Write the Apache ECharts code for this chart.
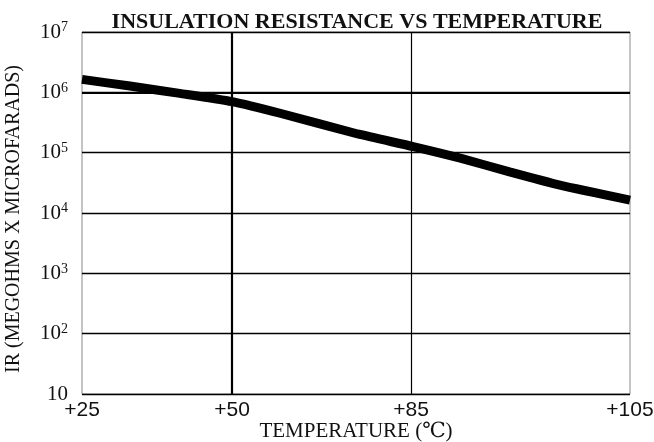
<!DOCTYPE html>
<html lang="en">
<head>
    <meta charset="UTF-8">
    <title>Insulation resistance vs temperature</title>
    <style>
        html, body { margin: 0; padding: 0; background: #fff; }
        #main { width: 654px; height: 442px; }
    </style>
</head>
<body>
    <div id="main"></div>
    <script src="https://cdn.jsdelivr.net/npm/echarts@6/dist/echarts.min.js"></script>
    <script>
        // x axis is not linear in temperature: each tick sits at its own position
        var tempTicks = [25, 50, 85, 105];
        var tickLabels = ["+25", "+50", "+85", "+105"];
        var tickPos = [0, 150, 329, 548];

        // curve (temperature in °C, IR in MΩ·µF)
        var curveTemp = [25, 33, 41.3, 50, 59.4, 74.6, 85.2, 89.5, 94, 98.6, 105];
        var curveIR = [1.64e6, 1.27e6, 9.6e5, 7.0e5, 4.5e5, 2.04e5, 1.26e5, 8.1e4, 4.8e4, 2.9e4, 1.64e4];

        var yTicks = [10, 1e2, 1e3, 1e4, 1e5, 1e6, 1e7];

        // piecewise map temperature -> axis position
        function toAxis(t) {
            for (var i = 0; i < tempTicks.length - 1; i++) {
                if (t <= tempTicks[i + 1]) {
                    var f = (t - tempTicks[i]) / (tempTicks[i + 1] - tempTicks[i]);
                    return tickPos[i] + f * (tickPos[i + 1] - tickPos[i]);
                }
            }
            return tickPos[tickPos.length - 1];
        }

        var data = curveTemp.map(function (t, i) {
            return [toAxis(t), curveIR[i]];
        });

        var serif = "'Liberation Serif', 'DejaVu Serif', serif";

        var chart = echarts.init(document.getElementById("main"));
        var option = {
            backgroundColor: "#fff",
            animation: false,
            title: {
                text: "INSULATION RESISTANCE VS TEMPERATURE",
                left: 352,
                textAlign: "center",
                top: 6,
                textStyle: {
                    fontFamily: serif,
                    fontWeight: "bold",
                    fontSize: 22,
                    color: "#111"
                }
            },
            grid: {
                left: 82,
                right: 24,
                top: 32,
                bottom: 48,
                outerBoundsMode: "none",
                containLabel: false,
                show: true,
                borderColor: "#888",
                borderWidth: 1
            },
            xAxis: {
                type: "value",
                min: tickPos[0],
                max: tickPos[tickPos.length - 1],
                name: "TEMPERATURE (\u2103)",
                nameLocation: "middle",
                nameGap: 27,
                nameMoveOverlap: false,
                nameTextStyle: {
                    fontFamily: serif,
                    fontSize: 21,
                    color: "#111"
                },
                axisLine: { show: false },
                axisTick: { show: false, customValues: tickPos },
                splitLine: { show: false },
                axisLabel: {
                    customValues: tickPos,
                    margin: 6,
                    fontFamily: "'Liberation Sans', Arial, sans-serif",
                    fontSize: 21,
                    color: "#111",
                    formatter: function (v) {
                        var i = tickPos.indexOf(v);
                        return i >= 0 ? tickLabels[i] : "";
                    }
                }
            },
            yAxis: {
                type: "log",
                logBase: 10,
                min: yTicks[0],
                max: yTicks[yTicks.length - 1],
                name: "IR (MEGOHMS X MICROFARADS)",
                nameLocation: "middle",
                nameGap: 58,
                nameMoveOverlap: false,
                nameTextStyle: {
                    fontFamily: serif,
                    fontSize: 20,
                    color: "#111",
                    padding: [0, 12, 0, 0]
                },
                axisLine: { show: false },
                axisTick: { show: false },
                splitLine: {
                    show: true,
                    lineStyle: { color: "#000", width: 1.3 }
                },
                axisLabel: {
                    margin: 14,
                    fontFamily: serif,
                    fontSize: 21,
                    color: "#111",
                    formatter: function (v) {
                        var p = Math.round(Math.log10(v));
                        return p === 1 ? "10" : "10{s|" + p + "}";
                    },
                    rich: {
                        s: {
                            fontFamily: serif,
                            fontSize: 14,
                            color: "#111",
                            verticalAlign: "top",
                            padding: [0, 0, 9, 0]
                        }
                    }
                }
            },
            series: [{
                type: "line",
                data: data,
                smooth: 0.2,
                showSymbol: false,
                clip: true,
                lineStyle: { color: "#000", width: 9 },
                markLine: {
                    silent: true,
                    symbol: "none",
                    label: { show: false },
                    data: [
                        { xAxis: tickPos[1], lineStyle: { color: "#000", width: 2.2, type: "solid" } },
                        { xAxis: tickPos[2], lineStyle: { color: "#000", width: 1.2, type: "solid" } },
                        { yAxis: yTicks[5], lineStyle: { color: "#000", width: 2.2, type: "solid" } }
                    ]
                },
                z: 3
            }]
        };
        chart.setOption(option);
    </script>
</body>
</html>
